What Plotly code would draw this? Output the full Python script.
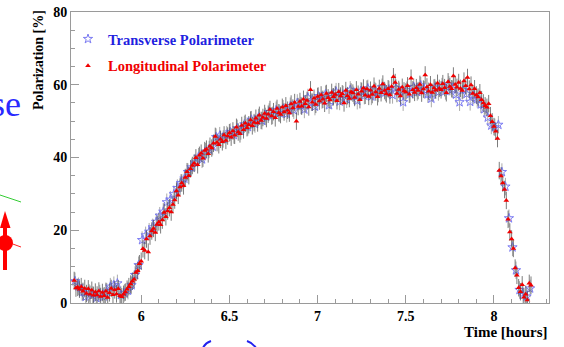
import plotly.graph_objects as go

# ---------------- data ----------------
long_time = [
    5.62, 5.63, 5.64, 5.65, 5.66, 5.67, 5.68, 5.69,
    5.70, 5.71, 5.72, 5.73, 5.74, 5.75, 5.76, 5.77, 5.78, 5.79,
    5.80, 5.81, 5.82, 5.83, 5.84, 5.85, 5.86, 5.87, 5.88, 5.89,
    5.90, 5.91, 5.92, 5.93, 5.94, 5.95, 5.96, 5.97, 5.98, 5.99,
    6.00, 6.01, 6.02, 6.03, 6.04, 6.05, 6.06, 6.07, 6.08, 6.09,
    6.10, 6.11, 6.12, 6.13, 6.14, 6.15, 6.16, 6.17, 6.18, 6.19,
    6.20, 6.21, 6.22, 6.23, 6.24, 6.25, 6.26, 6.27, 6.28, 6.29,
    6.30, 6.31, 6.32, 6.33, 6.34, 6.35, 6.36, 6.37, 6.38, 6.39,
    6.40, 6.41, 6.42, 6.43, 6.44, 6.45, 6.46, 6.47, 6.48, 6.49,
    6.50, 6.51, 6.52, 6.53, 6.54, 6.55, 6.56, 6.57, 6.58, 6.59,
    6.60, 6.61, 6.62, 6.63, 6.64, 6.65, 6.66, 6.67, 6.68, 6.69,
    6.70, 6.71, 6.72, 6.73, 6.74, 6.75, 6.76, 6.77, 6.78, 6.79,
    6.80, 6.81, 6.82, 6.83, 6.84, 6.85, 6.86, 6.87, 6.88, 6.89,
    6.90, 6.91, 6.92, 6.93, 6.94, 6.95, 6.96, 6.97, 6.98, 6.99,
    7.00, 7.01, 7.02, 7.03, 7.04, 7.05, 7.06, 7.07, 7.08, 7.09,
    7.10, 7.11, 7.12, 7.13, 7.14, 7.15, 7.16, 7.17, 7.18, 7.19,
    7.20, 7.21, 7.22, 7.23, 7.24, 7.25, 7.26, 7.27, 7.28, 7.29,
    7.30, 7.31, 7.32, 7.33, 7.34, 7.35, 7.36, 7.37, 7.38, 7.39,
    7.40, 7.41, 7.42, 7.43, 7.44, 7.45, 7.46, 7.47, 7.48, 7.49,
    7.50, 7.51, 7.52, 7.53, 7.54, 7.55, 7.56, 7.57, 7.58, 7.59,
    7.60, 7.61, 7.62, 7.63, 7.64, 7.65, 7.66, 7.67, 7.68, 7.69,
    7.70, 7.71, 7.72, 7.73, 7.74, 7.75, 7.76, 7.77, 7.78, 7.79,
    7.80, 7.81, 7.82, 7.83, 7.84, 7.85, 7.86, 7.87, 7.88, 7.89,
    7.90, 7.91, 7.92, 7.93, 7.94, 7.95, 7.96, 7.97, 7.98, 7.99,
    8.00, 8.01, 8.02, 8.03, 8.04, 8.05, 8.06, 8.07, 8.08, 8.09,
    8.10, 8.11, 8.12, 8.13, 8.14, 8.15, 8.16, 8.17, 8.18, 8.19,
    8.20, 8.21,
]
long_pol = [
    6.2, 4.1, 4.3, 3.8, 4.5, 3.2, 4.0, 2.6,
    3.9, 2.4, 3.5, 2.1, 3.0, 2.2, 3.3, 1.8, 2.9, 2.0,
    3.2, 1.5, 2.8, 4.0, 2.3, 3.6, 2.5, 3.9, 2.0, 1.7,
    2.4, 3.0, 3.8, 4.5, 5.2, 6.0, 6.5, 8.4, 8.9, 10.8,
    11.5, 14.9, 14.4, 17.6, 14.0, 18.4, 19.8, 20.5, 19.4, 21.6,
    22.3, 21.5, 22.8, 24.9, 23.7, 25.3, 26.2, 25.0, 27.1, 28.3,
    30.8, 29.6, 31.9, 33.0, 32.2, 34.5, 36.1, 35.0, 36.9, 37.8,
    38.4, 39.9, 38.0, 40.6, 41.2, 39.8, 41.9, 42.3, 41.0, 43.1,
    42.6, 43.9, 45.8, 44.1, 43.5, 45.0, 44.3, 46.2, 44.7, 45.9,
    46.8, 45.6, 47.3, 46.1, 48.3, 47.0, 46.5, 48.8, 47.6, 49.4,
    48.2, 49.0, 50.3, 48.7, 49.6, 50.8, 49.5, 51.6, 50.2, 51.0,
    52.1, 50.7, 51.9, 53.2, 51.4, 52.6, 50.9, 53.5, 52.3, 51.8,
    53.8, 52.5, 54.2, 53.0, 52.2, 54.7, 53.6, 55.1, 50.0, 54.0,
    55.4, 54.1, 56.0, 54.8, 55.7, 53.9, 58.6, 55.2, 56.3, 54.6,
    56.8, 55.5, 57.2, 56.0, 54.9, 57.6, 56.4, 55.8, 57.9, 56.7,
    57.3, 55.6, 58.1, 56.9, 57.5, 55.0, 58.4, 57.0, 56.2, 58.0,
    57.7, 56.5, 58.6, 57.4, 55.9, 58.2, 59.1, 57.1, 58.8, 56.8,
    58.5, 57.3, 59.6, 58.0, 56.7, 59.0, 57.8, 60.2, 58.4, 57.5,
    58.9, 57.2, 59.5, 62.2, 60.6, 57.6, 58.7, 56.9, 59.3, 58.3,
    58.0, 59.7, 57.4, 61.8, 58.6, 57.9, 59.2, 58.4, 60.1, 57.7,
    58.8, 62.7, 59.4, 58.2, 60.0, 57.9, 59.1, 58.5, 60.4, 59.0,
    58.6, 60.3, 59.2, 57.8, 60.8, 59.5, 58.9, 62.4, 60.1, 59.3,
    60.6, 59.0, 58.4, 61.0, 59.7, 62.0, 58.8, 59.9, 57.6, 58.9,
    57.2, 56.6, 57.8, 55.9, 55.0, 54.2, 53.8, 54.8, 51.5, 49.8,
    48.5, 47.2, 45.2, 36.4, 34.9, 33.0, 31.2, 28.2, 23.0, 19.5,
    17.6, 15.0, 9.6, 7.6, 4.2, 3.1, 5.0, 1.6, 2.4, 0.8,
    5.4, 4.9,
]

trans_time = [
    5.625, 5.645, 5.665, 5.685, 5.705, 5.725, 5.745, 5.765, 5.785, 5.805,
    5.825, 5.845, 5.865, 5.885, 5.905, 5.925, 5.945, 5.965, 5.985, 6.005,
    6.025, 6.045, 6.065, 6.085, 6.105, 6.125, 6.145, 6.165, 6.185, 6.205,
    6.225, 6.245, 6.265, 6.285, 6.305, 6.325, 6.345, 6.365, 6.385, 6.405,
    6.425, 6.445, 6.465, 6.485, 6.505, 6.525, 6.545, 6.565, 6.585, 6.605,
    6.625, 6.645, 6.665, 6.685, 6.705, 6.725, 6.745, 6.765, 6.785, 6.805,
    6.825, 6.845, 6.865, 6.885, 6.905, 6.925, 6.945, 6.965, 6.985, 7.005,
    7.025, 7.045, 7.065, 7.085, 7.105, 7.125, 7.145, 7.165, 7.185, 7.205,
    7.225, 7.245, 7.265, 7.285, 7.305, 7.325, 7.345, 7.365, 7.385, 7.405,
    7.425, 7.445, 7.465, 7.485, 7.505, 7.525, 7.545, 7.565, 7.585, 7.605,
    7.625, 7.645, 7.665, 7.685, 7.705, 7.725, 7.745, 7.765, 7.785, 7.805,
    7.825, 7.845, 7.865, 7.885, 7.905, 7.925, 7.945, 7.965, 7.985, 8.005,
    8.025, 8.045, 8.065, 8.085, 8.105, 8.125, 8.145, 8.165, 8.185, 8.205,
]
trans_pol = [
    6.0, 4.6, 3.0, 1.7, 2.8, 2.2, 1.4, 2.6, 1.7, 3.1,
    4.5, 4.9, 5.4, 2.2, 2.8, 3.4, 4.9, 7.7, 10.4, 17.3,
    18.6, 19.6, 20.8, 22.3, 24.0, 25.1, 27.7, 28.4, 29.9, 31.6,
    33.0, 34.2, 36.0, 37.3, 38.6, 40.2, 39.5, 41.6, 42.2, 43.0,
    45.6, 46.0, 45.1, 46.3, 47.0, 46.2, 48.0, 47.3, 49.1, 48.4,
    50.4, 49.2, 51.0, 50.1, 51.3, 52.5, 51.6, 53.0, 52.2, 53.4,
    52.0, 54.1, 53.0, 55.0, 54.3, 53.2, 56.5, 55.2, 54.0, 56.9,
    55.8, 57.4, 54.4, 56.6, 58.1, 55.4, 57.3, 56.0, 58.6, 57.1,
    55.6, 58.3, 57.0, 59.0, 56.8, 58.4, 57.6, 59.3, 57.9, 58.7,
    57.2, 59.1, 58.2, 55.2, 58.5, 57.5, 59.4, 58.0, 59.8, 58.6,
    57.4, 56.2, 59.2, 58.0, 59.5, 58.3, 60.0, 58.8, 57.3, 55.2,
    58.6, 57.5, 55.3, 57.0, 56.1, 54.6, 53.3, 51.0, 48.8, 48.3,
    49.0, 36.0, 32.0, 23.3, 15.3, 9.0, 3.6, 2.2, 1.8, 4.0,
]

pol_error = 2.4
y_ticks = [0, 20, 40, 60, 80]
x_ticks = [6, 6.5, 7, 7.5, 8]
x_tick_text = ["6", "6.5", "7", "7.5", "8"]

# ---------------- layout geometry ----------------
W, H = 564, 347
L, R, T, B = 71, 15, 12, 44
PW, PH = W - L - R, H - T - B


def px(x):
    return (x - L) / PW


def py(y):
    return (H - B - y) / PH


SERIF = "Liberation Serif"
BLUE_TXT = "#1f1fe0"
RED = "#f00000"

fig = go.Figure()

fig.add_trace(go.Scatter(
    x=trans_time, y=trans_pol, mode="markers",
    name="<span style='color:%s'><b>Transverse Polarimeter</b></span>" % BLUE_TXT,
    legendgroup="t",
    marker=dict(symbol="star-open", size=7, color="#7b7bf2", line=dict(width=1, color="#7b7bf2")),
    error_y=dict(type="constant", value=pol_error, color="rgba(150,150,150,0.8)", thickness=1, width=0),
))
fig.add_trace(go.Scatter(
    x=long_time, y=long_pol, mode="markers",
    name="<span style='color:%s'><b>Longitudinal Polarimeter</b></span>" % RED,
    legendgroup="l",
    marker=dict(symbol="triangle-up", size=5, color=RED, line=dict(width=0)),
    error_y=dict(type="constant", value=pol_error, color="rgba(80,80,80,0.75)", thickness=1, width=0),
))

axis_common = dict(
    showgrid=False, zeroline=False, showline=True, linecolor="#9a9a9a", linewidth=1,
    mirror=True, ticks="inside", tickcolor="#9a9a9a", automargin=False,
    tickfont=dict(family=SERIF, size=14, color="black", weight="bold"),
)

fig.update_xaxes(
    range=[5.602, 8.312], tickvals=x_ticks, ticktext=x_tick_text, ticklen=8,
    minor=dict(ticks="inside", dtick=0.1, tick0=5.6, ticklen=4, tickcolor="#9a9a9a"),
    **axis_common,
)
fig.update_yaxes(
    range=[0, 80], tickvals=y_ticks, ticklen=8,
    minor=dict(ticks="inside", dtick=5, tick0=0, ticklen=4, tickcolor="#9a9a9a"),
    **axis_common,
)

shapes = [
    # pieces of the surrounding slide that appear in the picture
    dict(type="line", xref="paper", yref="paper", x0=px(0), y0=py(195), x1=px(21), y1=py(202),
         line=dict(color="#33cc33", width=1)),
    dict(type="line", xref="paper", yref="paper", x0=px(10), y0=py(243), x1=px(21), y1=py(247),
         line=dict(color="#ff2020", width=1)),
    dict(type="line", xref="paper", yref="paper", x0=px(5), y0=py(224), x1=px(5), y1=py(270),
         line=dict(color="#ff0000", width=4)),
    dict(type="path", xref="paper", yref="paper",
         path="M %f %f L %f %f L %f %f Z" % (px(0), py(228), px(5), py(211), px(10.5), py(228)),
         fillcolor="#ff0000", line=dict(width=0)),
    dict(type="circle", xref="paper", yref="paper", x0=px(-3), y0=py(251), x1=px(13), y1=py(235),
         fillcolor="#ff0000", line=dict(width=0)),
    dict(type="path", xref="paper", yref="paper",
         path="M %f %f Q %f %f %f %f" % (px(203), py(348), px(205), py(343), px(211), py(341)),
         line=dict(color="#2222ee", width=2)),
    dict(type="path", xref="paper", yref="paper",
         path="M %f %f Q %f %f %f %f" % (px(247), py(341), px(253), py(343), px(256), py(348)),
         line=dict(color="#2222ee", width=2)),
]

annotations = [
    dict(text="<b>Polarization [%]</b>", textangle=-90, xref="paper", yref="paper",
         x=px(38), y=py(8), xanchor="center", yanchor="top", showarrow=False,
         font=dict(family=SERIF, size=14, color="black")),
    dict(text="<b>Time [hours]</b>", xref="paper", yref="paper",
         x=px(549), y=py(332), xanchor="right", yanchor="middle", showarrow=False,
         font=dict(family=SERIF, size=15, color="black")),
    dict(text="se", xref="paper", yref="paper", x=px(23), y=py(126),
         xanchor="right", yanchor="bottom", showarrow=False,
         font=dict(family=SERIF, size=36, color="#2a2aff")),
]

fig.update_layout(
    width=W, height=H, margin=dict(l=L, r=R, t=T, b=B, autoexpand=False),
    paper_bgcolor="white", plot_bgcolor="white",
    showlegend=True,
    legend=dict(x=px(68), y=py(23), xanchor="left", yanchor="top", bgcolor="rgba(0,0,0,0)",
                font=dict(family=SERIF, size=14.5), tracegroupgap=5, itemwidth=30),
    shapes=shapes, annotations=annotations,
)

fig.write_html("out.html")
